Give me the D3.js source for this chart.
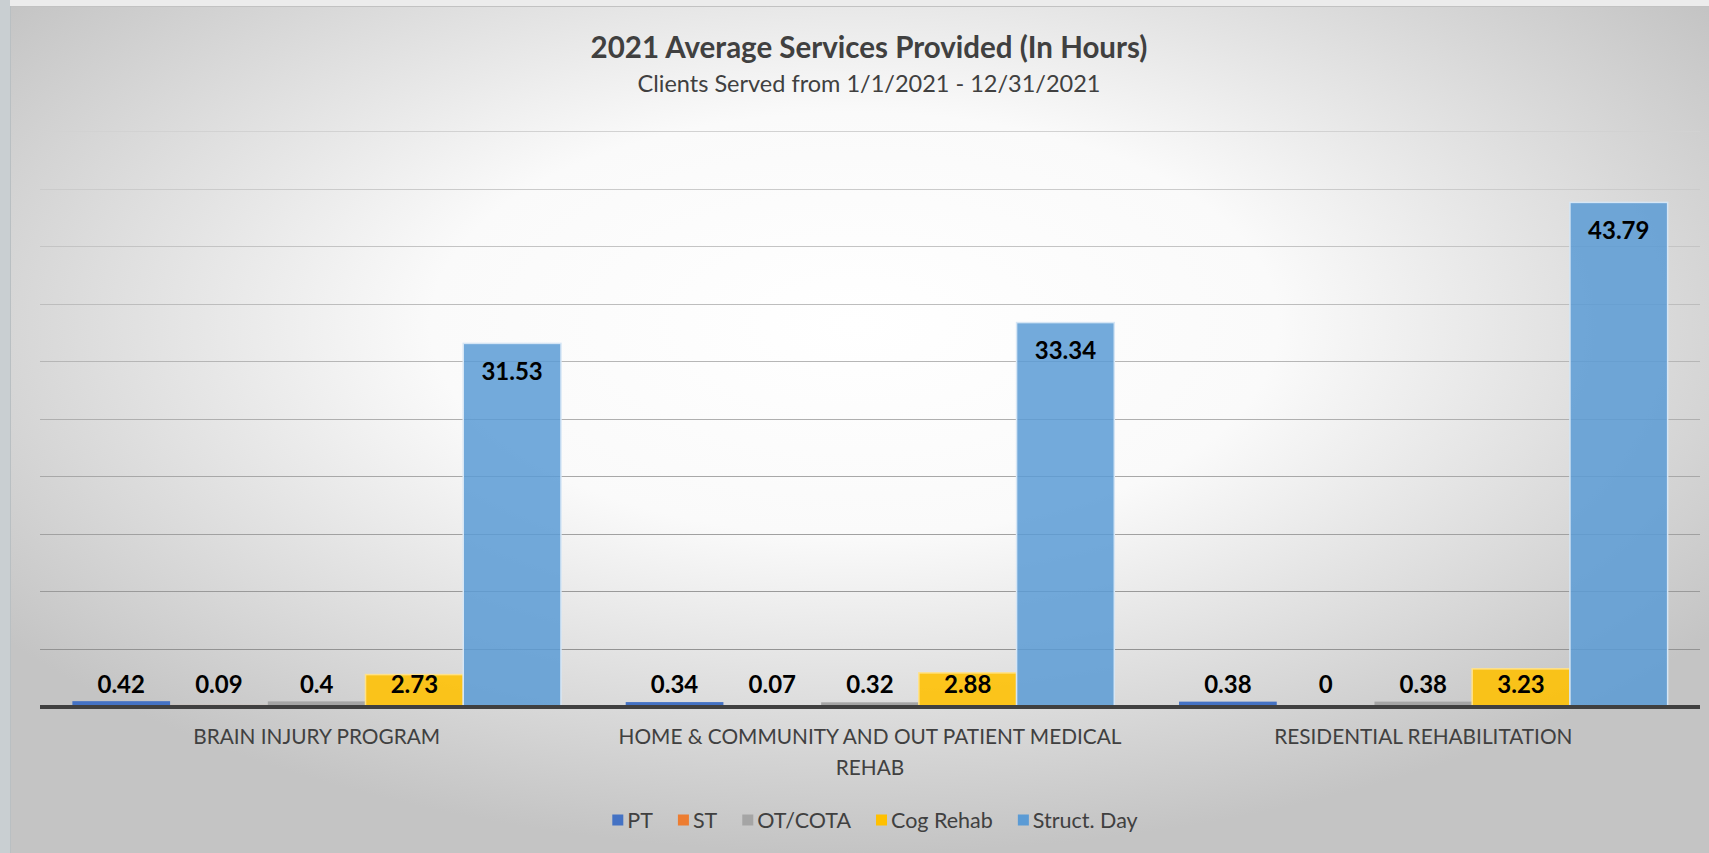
<!DOCTYPE html>
<html>
<head>
<meta charset="utf-8">
<script src="https://cdn.jsdelivr.net/npm/d3@7"></script>
<style>
  body { margin: 0; background: #d0d0d0; }
  svg { display: block; font-family: Lato, "Open Sans", sans-serif; }
</style>
</head>
<body>
<div id="chart"></div>
<script>
// data
const categories = ["BRAIN INJURY PROGRAM", "HOME & COMMUNITY AND OUT PATIENT MEDICAL REHAB", "RESIDENTIAL REHABILITATION"];
const seriesNames = ["PT", "ST", "OT/COTA", "Cog Rehab", "Struct. Day"];
const ptValues = [0.42, 0.34, 0.38];
const stValues = [0.09, 0.07, 0];
const otValues = [0.4, 0.32, 0.38];
const cogValues = [2.73, 2.88, 3.23];
const structValues = [31.53, 33.34, 43.79];
const yTicks = [0, 5, 10, 15, 20, 25, 30, 35, 40, 45, 50];

const colors = ["#4472c4", "#ed7d31", "#a5a5a5", "#ffc000", "#5b9bd5"];
const allValues = [ptValues, stValues, otValues, cogValues, structValues];

const data = categories.map((c, i) => ({
    category: c,
    values: seriesNames.map((s, j) => ({ series: s, value: allValues[j][i] }))
}));

const W = 1709, H = 853;
const margin = {top: 131, right: 9, bottom: 147, left: 40};

const svg = d3.select("#chart").append("svg")
    .attr("width", W)
    .attr("height", H);

// background gradient
const defs = svg.append("defs");
const grad = defs.append("radialGradient")
    .attr("id", "bg")
    .attr("cx", "50%").attr("cy", "38%")
    .attr("r", "62%")
    .attr("fx", "50%").attr("fy", "38%");
grad.append("stop").attr("offset", "0%").attr("stop-color", "#ffffff");
grad.append("stop").attr("offset", "40%").attr("stop-color", "#fafafa");
grad.append("stop").attr("offset", "100%").attr("stop-color", "#c4c4c4");

svg.append("rect").attr("width", W).attr("height", H).attr("fill", "url(#bg)");
// frame strips
svg.append("rect").attr("x", 0).attr("y", 0).attr("width", W).attr("height", 6).attr("fill", "#ececec");
svg.append("line").attr("x1", 10).attr("x2", W).attr("y1", 6.5).attr("y2", 6.5).attr("stroke", "#c2c2c2");
svg.append("rect").attr("x", 0).attr("y", 0).attr("width", 10).attr("height", H).attr("fill", "#c9cfd2");
svg.append("line").attr("x1", 10.5).attr("x2", 10.5).attr("y1", 6).attr("y2", H).attr("stroke", "#b9bfc2");

// scales
let x0 = d3.scaleBand()
    .domain(categories)
    .range([margin.left, W - margin.right])
    .paddingInner(0.117)
    .paddingOuter(0.0585);

let x1 = d3.scaleBand()
    .domain(seriesNames)
    .range([0, x0.bandwidth()]);

let y = d3.scaleLinear()
    .domain([0, 50])
    .range([H - margin.bottom, margin.top]);

let color = d3.scaleOrdinal().domain(seriesNames).range(colors);

// gridlines
let gridShade = d3.interpolateRgb("#8c8c8c", "#d2d2d2");
svg.append("g")
    .selectAll("line")
    .data(yTicks.filter(t => t > 0))
    .enter().append("line")
    .attr("x1", margin.left)
    .attr("x2", W - margin.right)
    .attr("y1", d => Math.round(y(d)) + 0.5)
    .attr("y2", d => Math.round(y(d)) + 0.5)
    .attr("stroke", d => gridShade(d / 50))
    .attr("stroke-width", 1.2);

// bars
let groups = svg.append("g")
    .selectAll("g")
    .data(data)
    .enter().append("g")
    .attr("transform", d => "translate(" + x0(d.category) + ",0)");

groups.selectAll("rect")
    .data(d => d.values)
    .enter().append("rect")
    .attr("x", d => x1(d.series))
    .attr("y", d => y(d.value))
    .attr("width", x1.bandwidth())
    .attr("height", d => y(0) - y(d.value))
    .attr("fill", d => color(d.series))
    .attr("fill-opacity", d => d.series === "Struct. Day" ? 0.85 : (d.series === "Cog Rehab" ? 0.88 : 1))
    .attr("stroke", d => d.series === "Struct. Day" ? "#d6e6f5" : (d.series === "Cog Rehab" ? "#ffe28a" : "none"))
    .attr("stroke-width", 1.5);

// data labels
groups.selectAll("text")
    .data(d => d.values)
    .enter().append("text")
    .attr("x", d => x1(d.series) + x1.bandwidth() / 2)
    .attr("y", d => Math.min(y(d.value) + 27, y(0) - 23))
    .attr("text-anchor", "middle")
    .attr("dominant-baseline", "central")
    .style("font-size", "24px")
    .style("font-weight", "bold")
    .style("fill", "#000")
    .text(d => d.value);

// x axis baseline
svg.append("line")
    .attr("x1", margin.left)
    .attr("x2", W - margin.right)
    .attr("y1", y(0) + 1)
    .attr("y2", y(0) + 1)
    .attr("stroke", "#404040")
    .attr("stroke-width", 4);

// category labels (wrapped)
const wrapped = {
    "HOME & COMMUNITY AND OUT PATIENT MEDICAL REHAB": ["HOME & COMMUNITY AND OUT PATIENT MEDICAL", "REHAB"]
};
svg.append("g")
    .selectAll("text")
    .data(categories)
    .enter().append("text")
    .attr("x", d => x0(d) + x0.bandwidth() / 2)
    .attr("y", y(0) + 38)
    .attr("text-anchor", "middle")
    .style("font-size", "20.8px")
    .style("fill", "#404040")
    .each(function(d) {
        let lines = wrapped[d] || [d];
        d3.select(this).selectAll("tspan")
            .data(lines)
            .enter().append("tspan")
            .attr("x", x0(d) + x0.bandwidth() / 2)
            .attr("dy", (l, i) => i === 0 ? 0 : 31)
            .text(l => l);
    });

// title
svg.append("text")
    .attr("x", 869)
    .attr("y", 58)
    .attr("text-anchor", "middle")
    .style("font-size", "29.5px")
    .style("font-weight", "bold")
    .style("fill", "#404040")
    .text("2021 Average Services Provided (In Hours)");

svg.append("text")
    .attr("x", 869)
    .attr("y", 92)
    .attr("text-anchor", "middle")
    .style("font-size", "23.5px")
    .style("fill", "#404040")
    .text("Clients Served from 1/1/2021 - 12/31/2021");

// legend
let legend = svg.append("g");
let lx = 0;
seriesNames.forEach((s, i) => {
    let item = legend.append("g").attr("transform", "translate(" + lx + ",0)");
    item.append("rect")
        .attr("x", 0).attr("y", -5.5)
        .attr("width", 11).attr("height", 11)
        .attr("fill", colors[i]);
    let t = item.append("text")
        .attr("x", 15)
        .attr("y", 0)
        .attr("dominant-baseline", "central")
        .style("font-size", "21.5px")
        .style("fill", "#404040")
        .text(s);
    lx += 15 + t.node().getComputedTextLength() + 25;
});
let legendWidth = lx - 25;
legend.attr("transform", "translate(" + (875 - legendWidth / 2) + ",820)");
</script>
</body>
</html>
